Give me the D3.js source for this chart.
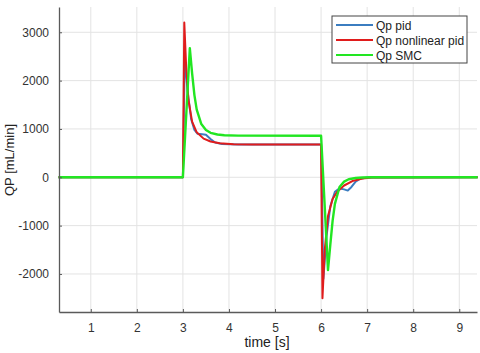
<!DOCTYPE html>
<html>
<head>
<meta charset="utf-8">
<script src="https://d3js.org/d3.v7.min.js"></script>
<style>
  body { margin: 0; background: #fff; }
  svg { display: block; font-family: "Liberation Sans", Arial, sans-serif; }
</style>
</head>
<body>
<div id="chart"></div>
<script>
// Data (time in s, QP in mL/min)
const pidTime = [0.3, 3.0, 3.04, 3.1, 3.18, 3.25, 3.32, 3.42, 3.5, 3.6, 3.7, 3.85, 4.2, 6.0, 6.05, 6.12, 6.2, 6.3, 6.4, 6.5, 6.58, 6.66, 6.75, 6.85, 7.0, 9.4];
const pidQP   = [0, 0, 2500, 1800, 1200, 980, 900, 890, 880, 790, 720, 690, 680, 680, -2100, -1200, -600, -300, -230, -250, -275, -200, -90, -30, -5, 0];

const nlTime = [0.3, 3.0, 3.03, 3.07, 3.12, 3.2, 3.3, 3.45, 3.6, 3.8, 4.1, 4.5, 6.0, 6.03, 6.08, 6.15, 6.25, 6.35, 6.5, 6.7, 6.9, 7.1, 9.4];
const nlQP   = [0, 0, 3200, 2300, 1600, 1150, 930, 800, 740, 705, 685, 680, 678, -2500, -1500, -800, -450, -300, -170, -70, -25, -5, 0];

const smcTime = [0.3, 3.0, 3.15, 3.2, 3.25, 3.3, 3.4, 3.5, 3.6, 3.75, 3.9, 4.2, 6.0, 6.15, 6.2, 6.25, 6.3, 6.4, 6.5, 6.6, 6.75, 6.9, 7.1, 9.4];
const smcQP   = [0, 0, 2670, 2150, 1700, 1400, 1100, 980, 920, 885, 870, 862, 860, -1920, -1400, -900, -550, -200, -90, -40, -15, -5, 0, 0];

const seriesNames = ["Qp pid", "Qp nonlinear pid", "Qp SMC"];
const xTicks = [1, 2, 3, 4, 5, 6, 7, 8, 9];
const yTicks = [-2000, -1000, 0, 1000, 2000, 3000];

const width = 480, height = 353;
const margin = { top: 7, right: 3, bottom: 41, left: 59 };

const series = [
  { name: seriesNames[0], t: pidTime, v: pidQP, color: "#3b7dc0", w: 2 },
  { name: seriesNames[1], t: nlTime, v: nlQP, color: "#e01c1c", w: 2 },
  { name: seriesNames[2], t: smcTime, v: smcQP, color: "#22e622", w: 2.4 }
];

const x = d3.scaleLinear().domain([0.31, 9.385]).range([margin.left, width - margin.right]);
const y = d3.scaleLinear().domain([-2787, 3523]).range([height - margin.bottom, margin.top]);

const svg = d3.select("#chart").append("svg")
    .attr("width", width)
    .attr("height", height);

// grid
svg.append("g")
    .attr("stroke", "#e3e3e3")
    .attr("stroke-width", 1)
  .call(g => g.selectAll("line.v").data(xTicks).join("line")
      .attr("x1", d => x(d)).attr("x2", d => x(d))
      .attr("y1", margin.top).attr("y2", height - margin.bottom))
  .call(g => g.selectAll("line.h").data(yTicks).join("line")
      .attr("x1", margin.left).attr("x2", width - margin.right)
      .attr("y1", d => y(d)).attr("y2", d => y(d)));

// lines
const line = d3.line()
    .x(d => x(d[0]))
    .y(d => y(d[1]));

svg.append("g")
    .attr("fill", "none")
    .attr("stroke-linejoin", "round")
  .selectAll("path")
  .data(series)
  .join("path")
    .attr("stroke", d => d.color)
    .attr("stroke-width", d => d.w)
    .attr("d", d => line(d.t.map((t, i) => [t, d.v[i]])));

// axes (ticks point inward), plain hyphen minus and no thousands separator
const fmt = d => String(d);
const xAxis = svg.append("g")
    .attr("transform", `translate(0,${height - margin.bottom})`)
    .call(d3.axisBottom(x).tickValues(xTicks).tickFormat(fmt).tickSize(-3).tickPadding(11).tickSizeOuter(0));
const yAxis = svg.append("g")
    .attr("transform", `translate(${margin.left},0)`)
    .call(d3.axisLeft(y).tickValues(yTicks).tickFormat(fmt).tickSize(-3).tickPadding(10).tickSizeOuter(0));

[xAxis, yAxis].forEach(a => {
  a.select(".domain").attr("stroke", "#5a5a5a").attr("stroke-width", 1.3);
  a.selectAll(".tick line").attr("stroke", "#5a5a5a");
  a.selectAll(".tick text")
      .attr("fill", "#333")
      .attr("font-size", 12)
      .attr("font-family", "'Liberation Sans', Arial, sans-serif");
});

// axis labels
svg.append("text")
    .attr("x", 267)
    .attr("y", 347)
    .attr("text-anchor", "middle")
    .attr("font-size", 14)
    .attr("fill", "#222")
    .text("time [s]");

svg.append("text")
    .attr("transform", `translate(14,160) rotate(-90)`)
    .attr("text-anchor", "middle")
    .attr("font-size", 13)
    .attr("fill", "#222")
    .text("QP [mL/min]");

// legend
const legend = svg.append("g").attr("transform", "translate(332,16)");
legend.append("rect")
    .attr("width", 135).attr("height", 47)
    .attr("fill", "#fff")
    .attr("stroke", "#444").attr("stroke-width", 1);
const item = legend.selectAll("g.item")
  .data(series)
  .join("g")
    .attr("transform", (d, i) => `translate(0,${9 + i * 15})`);
item.append("line")
    .attr("x1", 4).attr("x2", 41)
    .attr("stroke", d => d.color)
    .attr("stroke-width", 2);
item.append("text")
    .attr("x", 44).attr("y", 4.5)
    .attr("font-size", 12)
    .attr("fill", "#222")
    .text(d => d.name);
</script>
</body>
</html>
